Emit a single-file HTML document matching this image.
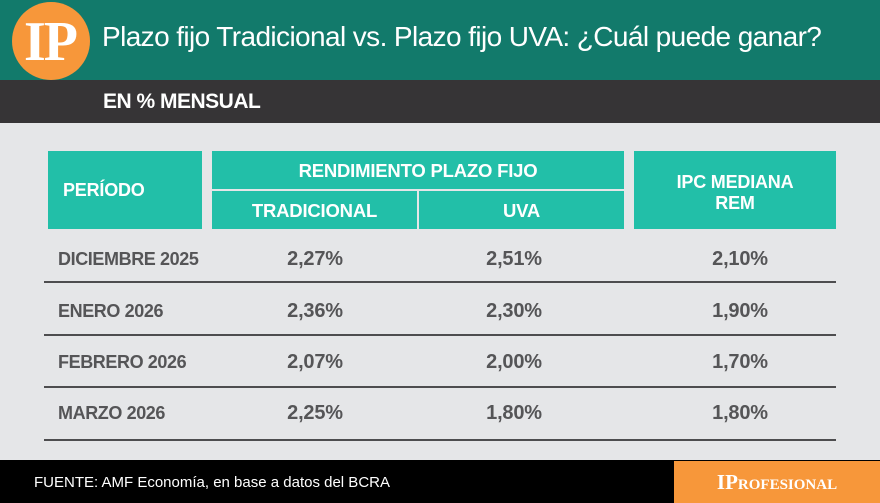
<!DOCTYPE html>
<html><head><meta charset="utf-8"><style>
*{margin:0;padding:0;box-sizing:border-box}
body{width:880px;height:503px;background:#e5e6e8;position:relative;overflow:hidden;font-family:"Liberation Sans",sans-serif}
.a{position:absolute}
.hdr{left:0;top:0;width:880px;height:80px;background:#127a6b}
.sub{left:0;top:80px;width:880px;height:43px;background:#363436}
.logo{left:12px;top:2px;width:78px;height:78px;border-radius:50%;background:#f7973a;color:#fff;font-family:"Liberation Serif",serif;font-weight:bold;font-size:56px;line-height:80px;text-align:center;letter-spacing:-2px;text-indent:-2px}
.title{left:102px;top:21px;color:#fff;font-size:28px;letter-spacing:-0.6px;white-space:nowrap}
.st{left:103px;top:90px;color:#fff;font-weight:bold;font-size:21px;letter-spacing:-0.5px}
.cell{background:#22bfa8;color:#fff;font-weight:bold;font-size:18px;display:flex;align-items:center;justify-content:center;letter-spacing:-0.2px;text-align:center;line-height:21px}
.line{height:2px;background:#4d4d4f;left:44px;width:792px}
.t{color:#555557;font-weight:bold;font-size:18px;letter-spacing:-0.4px}
.c{text-align:center;width:160px;font-size:20px;letter-spacing:-0.2px}
.foot{left:0;top:460px;width:880px;height:43px;background:#000}
.src{left:34px;top:474px;color:#fff;font-size:15px}
.brand{left:674px;top:461px;width:206px;height:42px;background:#f7973a;color:#fff;font-family:"Liberation Serif",serif;font-weight:bold;font-size:21px;font-variant:small-caps;line-height:42px;text-align:center}
</style></head><body>
<div class="a hdr"></div>
<div class="a sub"></div>
<div class="a logo">IP</div>
<div class="a title">Plazo fijo Tradicional vs. Plazo fijo UVA: ¿Cuál puede ganar?</div>
<div class="a st">EN % MENSUAL</div>

<div class="a cell" style="left:48px;top:151px;width:154px;height:78px;justify-content:flex-start;padding-left:15px">PERÍODO</div>
<div class="a cell" style="left:212px;top:151px;width:412px;height:38px;font-size:18.5px">RENDIMIENTO PLAZO FIJO</div>
<div class="a cell" style="left:212px;top:191px;width:205px;height:38px;font-size:18.5px">TRADICIONAL</div>
<div class="a cell" style="left:419px;top:191px;width:205px;height:38px;font-size:18.5px">UVA</div>
<div class="a cell" style="left:634px;top:151px;width:202px;height:78px;align-items:flex-start;padding-top:21px">IPC MEDIANA<br>REM</div>

<div class="a t" style="left:58px;top:249px">DICIEMBRE 2025</div>
<div class="a t c" style="left:235px;top:248px">2,27%</div>
<div class="a t c" style="left:434px;top:248px">2,51%</div>
<div class="a t c" style="left:660px;top:248px">2,10%</div>
<div class="a line" style="top:281px"></div>

<div class="a t" style="left:58px;top:301px">ENERO 2026</div>
<div class="a t c" style="left:235px;top:300px">2,36%</div>
<div class="a t c" style="left:434px;top:300px">2,30%</div>
<div class="a t c" style="left:660px;top:300px">1,90%</div>
<div class="a line" style="top:334px"></div>

<div class="a t" style="left:58px;top:352px">FEBRERO 2026</div>
<div class="a t c" style="left:235px;top:351px">2,07%</div>
<div class="a t c" style="left:434px;top:351px">2,00%</div>
<div class="a t c" style="left:660px;top:351px">1,70%</div>
<div class="a line" style="top:386px"></div>

<div class="a t" style="left:58px;top:403px">MARZO 2026</div>
<div class="a t c" style="left:235px;top:402px">2,25%</div>
<div class="a t c" style="left:434px;top:402px">1,80%</div>
<div class="a t c" style="left:660px;top:402px">1,80%</div>
<div class="a line" style="top:439px"></div>

<div class="a foot"></div>
<div class="a src">FUENTE: AMF Economía, en base a datos del BCRA</div>
<div class="a brand">IProfesional</div>
</body></html>
